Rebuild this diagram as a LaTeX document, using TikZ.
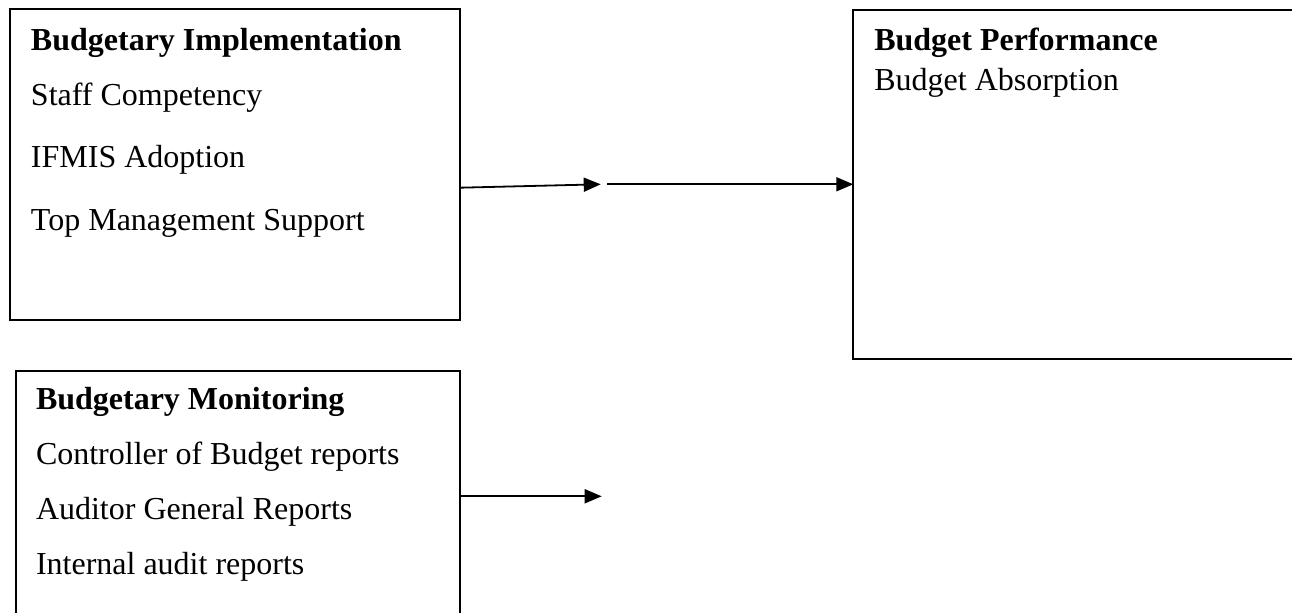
\documentclass[tikz,border=0pt]{standalone}
\usepackage{fontspec}
\setmainfont{Liberation Serif}
\usetikzlibrary{arrows.meta}
\begin{document}
\begin{tikzpicture}[x=0.5pt,y=-0.5pt,
  box/.style={draw=black, line width=1pt, outer sep=0pt, inner sep=0pt, anchor=north west},
  txt/.style={anchor=base west, inner sep=0pt, outer sep=0pt, font=\fontsize{16}{19}\selectfont},
  head/.style={txt, font=\fontsize{16}{19}\selectfont\bfseries},
  conn/.style={line width=0.9pt, -{Triangle[length=8.5pt,width=7pt]}}]
\clip (0,0) rectangle (1292,613);
% boxes
\node[box, minimum width=225pt, minimum height=155.25pt] (impl) at (10,9.5) {};
\node[box, minimum width=222.15pt, minimum height=140pt] (mon) at (16,370.7) {};
\node[box, minimum width=240pt, minimum height=174.65pt] (perf) at (853.3,10) {};
% texts
\node[head] (implh) at (31,51) {Budgetary Implementation};
\node[txt] (impl1) at (31,106) {Staff Competency};
\node[txt] (impl2) at (31,168) {IFMIS Adoption};
\node[txt] (impl3) at (31,231) {Top Management Support};
\node[head] (monh) at (36,410) {Budgetary Monitoring};
\node[txt] (mon1) at (36,465) {Controller of Budget reports};
\node[txt] (mon2) at (36,520) {Auditor General Reports};
\node[txt] (mon3) at (36,575) {Internal audit reports};
\node[head] (perfh) at (874.3,51) {Budget Performance};
\node[txt] (perf1) at (874.3,91) {Budget Absorption};
% connectors
\coordinate (a1s) at (460,187.7);
\coordinate (a1e) at (600.7,184.3);
\coordinate (a2s) at (607,184.3);
\coordinate (a3s) at (460.3,496.3);
\coordinate (a3e) at (601.7,496.3);
\draw[conn] (impl.east |- a1s) -- (a1e);
\draw[conn] (a2s) -- (perf.west |- a2s);
\draw[conn] (mon.east |- a3s) -- (a3e);
\end{tikzpicture}
\end{document}
